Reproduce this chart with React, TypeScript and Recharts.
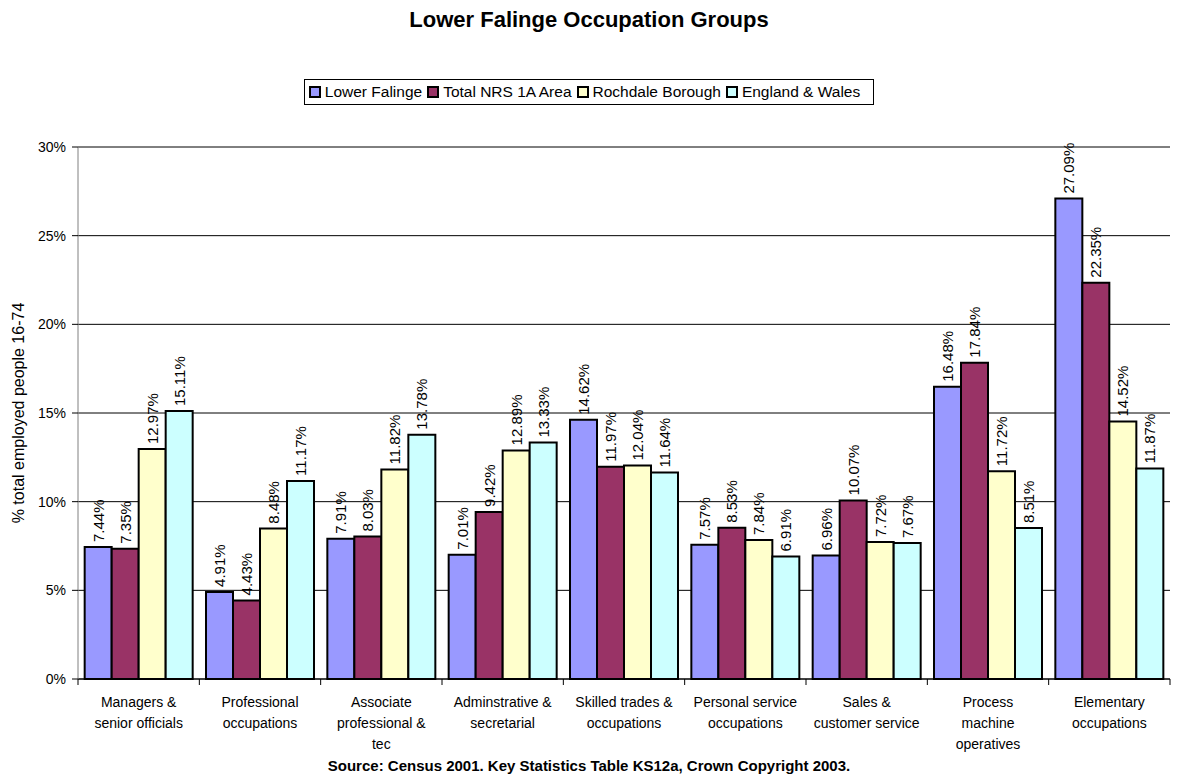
import React from 'react';
import {
  BarChart,
  Bar,
  XAxis,
  YAxis,
  CartesianGrid,
  LabelList,
  ReferenceLine
} from 'recharts';

const categories = [
  'Managers &\nsenior officials',
  'Professional\noccupations',
  'Associate\nprofessional &\ntec',
  'Adminstrative &\nsecretarial',
  'Skilled trades &\noccupations',
  'Personal service\noccupations',
  'Sales &\ncustomer service',
  'Process\nmachine\noperatives',
  'Elementary\noccupations'
];

const lowerFalinge = [7.44, 4.91, 7.91, 7.01, 14.62, 7.57, 6.96, 16.48, 27.09];
const totalNrs = [7.35, 4.43, 8.03, 9.42, 11.97, 8.53, 10.07, 17.84, 22.35];
const rochdale = [12.97, 8.48, 11.82, 12.89, 12.04, 7.84, 7.72, 11.72, 14.52];
const englandWales = [15.11, 11.17, 13.78, 13.33, 11.64, 6.91, 7.67, 8.51, 11.87];

const yTicks = [0, 5, 10, 15, 20, 25, 30];

const series = [
  { key: 'lf', name: 'Lower Falinge', color: '#9999FF' },
  { key: 'nrs', name: 'Total NRS 1A Area', color: '#993366' },
  { key: 'rb', name: 'Rochdale Borough', color: '#FFFFCC' },
  { key: 'ew', name: 'England & Wales', color: '#CCFFFF' }
];

const data = categories.map((c, i) => ({
  category: c,
  lf: lowerFalinge[i],
  nrs: totalNrs[i],
  rb: rochdale[i],
  ew: englandWales[i]
}));

const FONT = 'Arial, "Liberation Sans", sans-serif';
const W = 1178;
const H = 778;
const Y_AXIS_W = 78;
const RIGHT = 8;
const PLOT_W = W - Y_AXIS_W - RIGHT;

const CategoryTick = (props: any) => {
  const { x, y, payload, index } = props;
  const bw = PLOT_W / categories.length;
  const lines = String(payload.value).split('\n');
  return (
    <g>
      <line x1={x - bw / 2} y1={y} x2={x - bw / 2} y2={y + 6} stroke="#000" />
      {index === categories.length - 1 && (
        <line x1={x + bw / 2} y1={y} x2={x + bw / 2} y2={y + 6} stroke="#000" />
      )}
      {lines.map((l, i) => (
        <text
          key={i}
          x={x}
          y={y + 28 + i * 21}
          textAnchor="middle"
          fontSize={14}
          fontFamily={FONT}
          fill="#000"
        >
          {l}
        </text>
      ))}
    </g>
  );
};

const ValueLabel = (props: any) => {
  const { x, y, width, value } = props;
  const cx = x + width / 2;
  const ty = y - 5;
  return (
    <text
      x={cx}
      y={ty}
      transform={`rotate(-90 ${cx} ${ty})`}
      textAnchor="start"
      dominantBaseline="central"
      fontSize={15}
      fontFamily={FONT}
      fill="#000"
    >
      {Number(value).toFixed(2)}%
    </text>
  );
};

const App: React.FC = () => {
  return (
    <div
      style={{
        position: 'absolute',
        left: 0,
        top: 0,
        width: W,
        height: H,
        background: '#fff',
        fontFamily: FONT
      }}
    >
      <div
        style={{
          position: 'absolute',
          top: 7,
          left: 0,
          width: W,
          textAlign: 'center',
          fontWeight: 'bold',
          fontSize: 22
        }}
      >
        Lower Falinge Occupation Groups
      </div>

      <div
        style={{
          position: 'absolute',
          top: 79,
          left: 0,
          width: W,
          display: 'flex',
          justifyContent: 'center'
        }}
      >
        <div
          style={{
            display: 'flex',
            alignItems: 'center',
            border: '1px solid #000',
            padding: '1px 8px 1px 4px',
            fontSize: 15.5,
            height: 22
          }}
        >
          {series.map(s => (
            <div key={s.key} style={{ display: 'flex', alignItems: 'center', marginRight: 5 }}>
              <span
                style={{
                  display: 'inline-block',
                  width: 8,
                  height: 8,
                  background: s.color,
                  border: '2px solid #000',
                  marginRight: 4
                }}
              />
              <span>{s.name}</span>
            </div>
          ))}
        </div>
      </div>

      <div style={{ position: 'absolute', left: 0, top: 0 }}>
        <BarChart
          width={W}
          height={H}
          data={data}
          margin={{ top: 147, right: RIGHT, bottom: 19, left: 0 }}
          barCategoryGap="5.5%"
          barGap={0}
        >
          <CartesianGrid vertical={false} stroke="#000" />
          <XAxis
            dataKey="category"
            interval={0}
            height={80}
            tickSize={0}
            tickMargin={0}
            tickLine={false}
            axisLine={{ stroke: '#000' }}
            tick={<CategoryTick />}
          />
          <YAxis
            width={Y_AXIS_W}
            domain={[0, 30]}
            ticks={yTicks}
            tickFormatter={(v: number) => `${v}%`}
            tickSize={6}
            tickMargin={6}
            tickLine={{ stroke: '#000' }}
            axisLine={{ stroke: '#808080' }}
            tick={{ fontSize: 14, fill: '#000', fontFamily: FONT }}
            label={{
              content: (p: any) => {
                const vb = p.viewBox;
                const lx = 18;
                const ly = vb.y + vb.height / 2;
                return (
                  <text
                    x={lx}
                    y={ly}
                    transform={`rotate(-90 ${lx} ${ly})`}
                    textAnchor="middle"
                    dominantBaseline="central"
                    fontSize={16}
                    fontFamily={FONT}
                    fill="#000"
                  >
                    % total employed people 16-74
                  </text>
                );
              }
            }}
          />
          <YAxis
            yAxisId="r"
            orientation="right"
            width={0}
            domain={[0, 30]}
            ticks={yTicks}
            tick={false}
            tickLine={false}
            axisLine={{ stroke: '#808080' }}
          />
          <ReferenceLine y={30} stroke="#808080" />
          {series.map(s => (
            <Bar
              key={s.key}
              dataKey={s.key}
              name={s.name}
              fill={s.color}
              stroke="#000"
              strokeWidth={2}
              isAnimationActive={false}
            >
              <LabelList dataKey={s.key} content={<ValueLabel />} />
            </Bar>
          ))}
        </BarChart>
      </div>

      <div
        style={{
          position: 'absolute',
          top: 757,
          left: 0,
          width: W,
          textAlign: 'center',
          fontWeight: 'bold',
          fontSize: 15
        }}
      >
        Source: Census 2001. Key Statistics Table KS12a, Crown Copyright 2003.
      </div>
    </div>
  );
};

export default App;
